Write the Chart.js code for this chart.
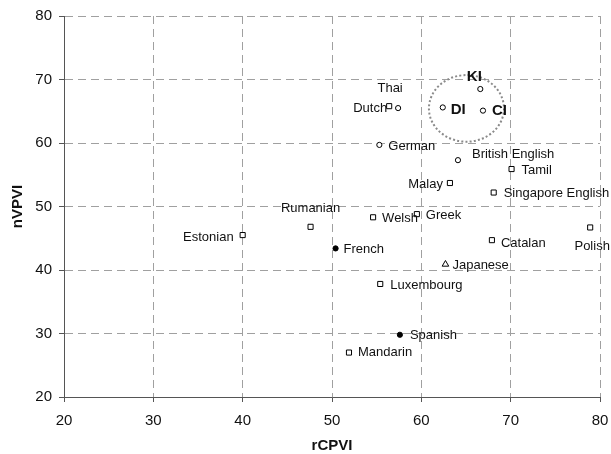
<!DOCTYPE html>
<html>
<head>
<meta charset="utf-8">
<script src="https://cdn.jsdelivr.net/npm/chart.js@4.4.1/dist/chart.umd.min.js"></script>
<style>
  body { margin: 0; background: #fff; }
  canvas { display: block; }
</style>
</head>
<body>
<canvas id="chart" width="611" height="454"></canvas>
<script>
// language names and their rhythm metrics
const languages = ['Thai', 'Dutch', 'KI', 'DI', 'CI', 'German', 'British English', 'Tamil',
  'Malay', 'Singapore English', 'Welsh', 'Greek', 'Polish', 'Catalan', 'Japanese',
  'Luxembourg', 'Spanish', 'Mandarin', 'Estonian', 'Rumanian', 'French'];
const rcpvi = [57.4, 56.4, 66.6, 62.4, 66.9, 55.3, 64.1, 70.1,
  63.2, 68.1, 54.6, 59.5, 78.9, 67.9, 62.7,
  55.4, 57.6, 51.9, 40.0, 47.6, 50.4];
const nvpvi = [65.5, 65.8, 68.5, 65.6, 65.1, 59.7, 57.3, 55.9,
  53.7, 52.2, 48.3, 48.8, 46.7, 44.7, 40.9,
  37.8, 29.8, 27.0, 45.5, 46.8, 43.4];
// marker group: circle = open circle, dot = filled circle, rect = open square
const markers = ['circle', 'rect', 'circle', 'circle', 'circle', 'circle', 'circle', 'rect',
  'rect', 'rect', 'rect', 'rect', 'rect', 'rect', 'triangle',
  'rect', 'dot', 'rect', 'rect', 'rect', 'dot'];
const boldNames = ['KI', 'DI', 'CI'];
const xTicks = [20, 30, 40, 50, 60, 70, 80];
const yTicks = [20, 30, 40, 50, 60, 70, 80];
// dotted ellipse around KI / DI / CI: centre x, centre y, radius x, radius y (data units)
const clusterEllipse = [65.05, 65.45, 4.2, 5.25];

// label placement relative to the marker: [align, dx, dy]
const labelPos = {
  'Thai': ['center', -8, -20],
  'Dutch': ['right', -2, 2],
  'KI': ['center', -6, -12],
  'DI': ['left', 8, 2],
  'CI': ['left', 9, 0],
  'German': ['left', 9, 2],
  'British English': ['left', 14, -6],
  'Tamil': ['left', 10, 1],
  'Malay': ['right', -7, 1],
  'Singapore English': ['left', 10, 1],
  'Welsh': ['left', 9, 1],
  'Greek': ['left', 9, 1],
  'Polish': ['center', 2, 19],
  'Catalan': ['left', 9, 3],
  'Japanese': ['left', 7, 1],
  'Luxembourg': ['left', 10, 1],
  'Spanish': ['left', 10, 1],
  'Mandarin': ['left', 9, 0],
  'Estonian': ['right', -9, 2],
  'Rumanian': ['center', 0, -18],
  'French': ['left', 8, 1]
};

const FONT = '"Liberation Sans", Arial, sans-serif';

const points = languages.map((name, i) => ({ x: rcpvi[i], y: nvpvi[i] }));

// ellipse + point labels + axis titles
const extras = {
  id: 'extras',
  afterDatasetsDraw(chart) {
    const { ctx, scales: { x, y }, chartArea } = chart;
    ctx.save();

    const cx = x.getPixelForValue(clusterEllipse[0]);
    const cy = y.getPixelForValue(clusterEllipse[1]);
    const rx = x.getPixelForValue(clusterEllipse[0] + clusterEllipse[2]) - cx;
    const ry = cy - y.getPixelForValue(clusterEllipse[1] + clusterEllipse[3]);
    ctx.strokeStyle = '#8a8a8a';
    ctx.lineWidth = 2;
    ctx.setLineDash([2, 2.2]);
    ctx.beginPath();
    ctx.ellipse(cx, cy, rx, ry, 0, 0, Math.PI * 2);
    ctx.stroke();
    ctx.setLineDash([]);

    const meta = chart.getDatasetMeta(0);
    ctx.fillStyle = '#111';
    ctx.textBaseline = 'middle';
    languages.forEach((name, i) => {
      const el = meta.data[i];
      const [align, dx, dy] = labelPos[name];
      ctx.font = boldNames.includes(name) ? 'bold 15px ' + FONT : '13px ' + FONT;
      ctx.textAlign = align;
      ctx.fillText(name, el.x + dx, el.y + dy);
    });

    ctx.font = 'bold 15px ' + FONT;
    ctx.textAlign = 'center';
    ctx.fillText('rCPVI', (chartArea.left + chartArea.right) / 2, 446);
    ctx.translate(18, (chartArea.top + chartArea.bottom) / 2);
    ctx.rotate(-Math.PI / 2);
    ctx.fillText('nVPVI', 0, 0);
    ctx.restore();
  }
};

const axisCommon = {
  type: 'linear',
  min: 20,
  max: 80,
  grid: {
    color: '#a0a0a0',
    lineWidth: 1,
    drawTicks: true,
    tickLength: 5,
    tickColor: '#555'
  },
  border: { display: true, color: '#555', width: 1, dash: [8, 5] },
  ticks: {
    color: '#111',
    font: { family: FONT, size: 15 }
  }
};

new Chart(document.getElementById('chart'), {
  type: 'scatter',
  data: {
    datasets: [{
      data: points,
      pointStyle: ctx => markers[ctx.dataIndex] === 'dot' ? 'circle' : markers[ctx.dataIndex],
      pointRadius: ctx => {
        const m = markers[ctx.dataIndex];
        return m === 'rect' ? 3.6 : m === 'triangle' ? 3.8 : 2.6;
      },
      backgroundColor: ctx => markers[ctx.dataIndex] === 'dot' ? '#000' : '#fff',
      borderColor: '#000',
      borderWidth: 1
    }]
  },
  options: {
    responsive: false,
    animation: false,
    layout: { padding: { top: 16, right: 11, left: 0, bottom: 0 } },
    plugins: {
      legend: { display: false },
      tooltip: { enabled: false }
    },
    scales: {
      x: {
        ...axisCommon,
        position: 'bottom',
        afterBuildTicks: s => { s.ticks = xTicks.map(v => ({ value: v })); },
        afterFit: s => { s.height = 57; s.paddingLeft = 0; s.paddingRight = 0; },
        ticks: { ...axisCommon.ticks, padding: 10, maxRotation: 0 }
      },
      y: {
        ...axisCommon,
        position: 'left',
        afterBuildTicks: s => { s.ticks = yTicks.map(v => ({ value: v })); },
        afterFit: s => { s.width = 64; s.paddingTop = 0; s.paddingBottom = 0; },
        ticks: { ...axisCommon.ticks, padding: 7 }
      }
    }
  },
  plugins: [extras]
});
</script>
</body>
</html>
